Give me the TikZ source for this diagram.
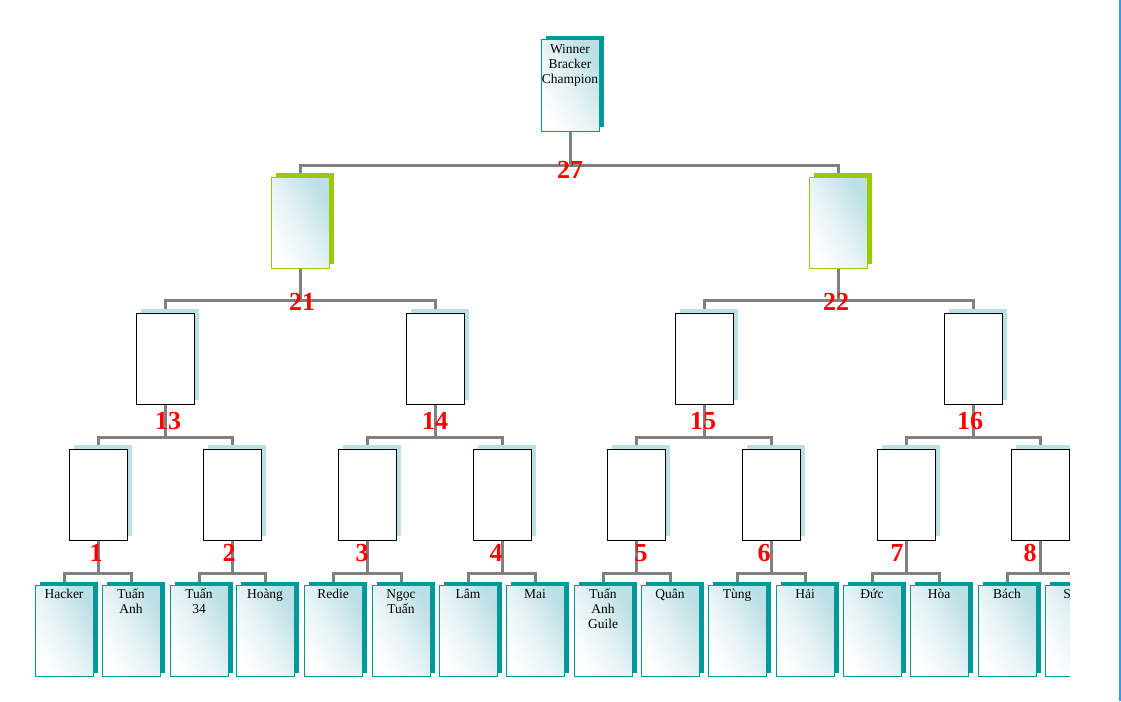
\documentclass[tikz,border=0pt]{standalone}
\usepackage{fontspec}
\setmainfont{Liberation Serif}
\usetikzlibrary{shadows}
\pgfdeclarelayer{bg}
\pgfsetlayers{bg,main}
\definecolor{tealc}{HTML}{009999}
\definecolor{limec}{HTML}{99CC00}
\definecolor{lblue}{HTML}{BADFE4}
\definecolor{shadec}{HTML}{BBDFE4}
\definecolor{linegray}{HTML}{808080}
\definecolor{numred}{HTML}{FF0000}
\definecolor{edgeblue}{HTML}{3399EE}
\newcommand\btext[2][13pt]{\parbox[c][91pt][t]{58pt}{\centering\rule{0pt}{#1}#2\par}}
\tikzset{
  box/.style={rectangle, inner sep=0pt, minimum width=58pt, minimum height=91pt},
  gradbox/.style={box, top color=shadec, bottom color=white, middle color=shadec!40!white, shading angle=-60},
  topbox/.style={gradbox, draw=tealc, line width=1pt,
    copy shadow={shadow xshift=5pt, shadow yshift=4pt, fill=tealc, draw=none}},
  leaf/.style={gradbox, draw=tealc, line width=1pt,
    copy shadow={shadow xshift=5pt, shadow yshift=3.5pt, fill=tealc, draw=none}},
  semibox/.style={gradbox, draw=limec, line width=1pt,
    copy shadow={shadow xshift=5pt, shadow yshift=4pt, fill=limec, draw=none}},
  plainbox/.style={box, fill=white, draw=black, line width=1pt,
    copy shadow={shadow xshift=5pt, shadow yshift=4pt, fill=lblue, draw=none}},
  conn/.style={draw=linegray, line width=3pt},
  num/.style={text=numred, font=\bfseries\fontsize{26}{26}\selectfont, inner sep=0pt},
  every node/.append style={font=\fontsize{13.5}{15}\selectfont}
}
\begin{document}
\begin{tikzpicture}[x=1pt,y=-1pt]
\useasboundingbox (0,0) rectangle (1121,701);
% top
\node[topbox] (top) at (570,85.5) {\btext[14pt]{Winner\\Bracker\\Champion}};
% level 2
\node[semibox] (s1) at (300,222.5) {};
\node[semibox] (s2) at (838,222.5) {};
% level 3
\node[plainbox] (t1) at (165,358.5) {};
\node[plainbox] (t2) at (435,358.5) {};
\node[plainbox] (t3) at (704,358.5) {};
\node[plainbox] (t4) at (973,358.5) {};
% level 4
\foreach \i/\x in {1/98,2/232,3/367,4/502,5/636,6/771,7/906,8/1040}
  \node[plainbox] (q\i) at (\x,494.5) {};
% leaves
\node[leaf] (f1) at (64,630.5) {\btext{Hacker}};
\node[leaf] (f2) at (131,630.5) {\btext{Tuấn\\Anh}};
\node[leaf] (f3) at (199,630.5) {\btext{Tuấn\\34}};
\node[leaf] (f4) at (265,630.5) {\btext{Hoàng}};
\node[leaf] (f5) at (333,630.5) {\btext{Redie}};
\node[leaf] (f6) at (401,630.5) {\btext{Ngọc\\Tuấn}};
\node[leaf] (f7) at (468,630.5) {\btext{Lâm}};
\node[leaf] (f8) at (535,630.5) {\btext{Mai}};
\node[leaf] (f9) at (603,630.5) {\btext{Tuấn\\Anh\\Guile}};
\node[leaf] (f10) at (670,630.5) {\btext{Quân}};
\node[leaf] (f11) at (737,630.5) {\btext{Tùng}};
\node[leaf] (f12) at (805,630.5) {\btext{Hải}};
\node[leaf] (f13) at (872,630.5) {\btext{Đức}};
\node[leaf] (f14) at (939,630.5) {\btext{Hòa}};
\node[leaf] (f15) at (1007,630.5) {\btext{Bách}};
\node[leaf] (f16) at (1074,630.5) {\btext{Sơn}};
% connectors
\begin{pgfonlayer}{bg}
\draw[conn] (top.south) -- ++(0,34) coordinate (j27);
\draw[conn] (j27) -| (s1.north);
\draw[conn] (j27) -| (s2.north);
\draw[conn] (s1.south) -- ++(0,32) coordinate (j21);
\draw[conn] (j21) -| (t1.north);
\draw[conn] (j21) -| (t2.north);
\draw[conn] (s2.south) -- ++(0,32) coordinate (j22);
\draw[conn] (j22) -| (t3.north);
\draw[conn] (j22) -| (t4.north);
\foreach \t/\a/\b in {1/1/2,2/3/4,3/5/6,4/7/8}{
  \draw[conn] (t\t.south) -- ++(0,33) coordinate (jt\t);
  \draw[conn] (jt\t) -| (q\a.north);
  \draw[conn] (jt\t) -| (q\b.north);
}
\foreach \q/\a/\b in {1/1/2,2/3/4,3/5/6,4/7/8,5/9/10,6/11/12,7/13/14,8/15/16}{
  \draw[conn] (q\q.south) -- ++(0,33) coordinate (jq\q);
  \draw[conn] (jq\q) -| (f\a.north);
  \draw[conn] (jq\q) -| (f\b.north);
}
\end{pgfonlayer}
% numbers
\node[num] (n27) at (570,170) {27};
\node[num] (n21) at (302,302) {21};
\node[num] (n22) at (836,302) {22};
\node[num] (n13) at (168,421) {13};
\node[num] (n14) at (435,421) {14};
\node[num] (n15) at (703,421) {15};
\node[num] (n16) at (970,421) {16};
\foreach \i/\x in {1/96,2/229,3/362,4/496,5/641,6/764,7/897,8/1030}
  \node[num] (n\i) at (\x,553) {\i};
% right edge mask and blue rule
\fill[white] (1070,0) rectangle (1118.5,701);
\draw[edgeblue, line width=2pt] (1120,0) -- (1120,701);
\end{tikzpicture}
\end{document}
